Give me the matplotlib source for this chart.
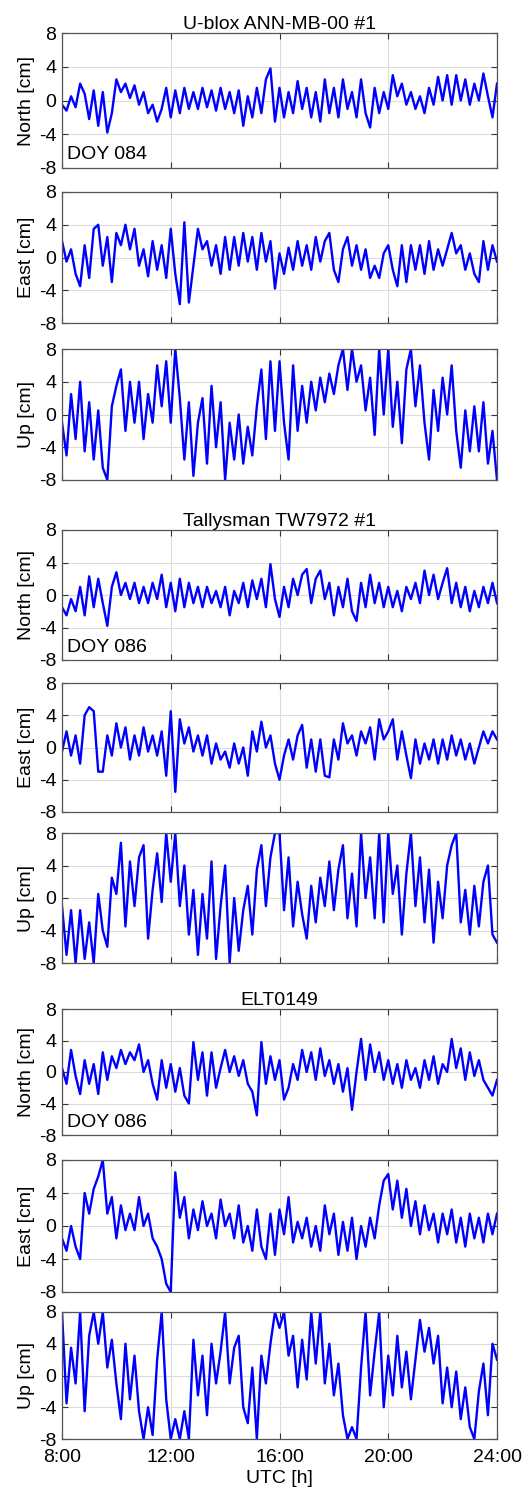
import numpy as np
import matplotlib
matplotlib.use("Agg")
import matplotlib.pyplot as plt

plt.rcParams['font.family'] = ['Liberation Sans', 'DejaVu Sans']
plt.rcParams['axes.unicode_minus'] = False

# time axis: 10-minute samples from 8:00 to 24:00 UTC (hours)
hours = np.arange(97) / 6.0 + 8.0

# U-blox ANN-MB-00 #1, DOY 084 (cm)
ublox_north = [
    -0.5, -1.2, 0.5, -0.8, 2.0, 0.8,
    -2.2, 1.2, -3.0, 1.0, -3.8, -1.5,
    2.5, 1.0, 2.0, 0.3, 1.8, -0.5,
    1.0, -1.5, -0.5, -2.5, -1.0, 1.5,
    -2.0, 1.2, -1.5, 1.5, -1.0, 1.0,
    -1.0, 1.5, -0.8, 1.2, -1.2, 1.5,
    -1.0, 1.0, -1.5, 1.2, -3.0, 0.5,
    -2.0, 1.5, -1.5, 2.5, 3.8, -2.5,
    1.5, -2.0, 1.0, -1.5, 2.3, -1.0,
    1.5, -2.0, 1.0, -2.5, 2.5, -1.5,
    1.5, -2.0, 2.5, -1.0, 1.0, -2.0,
    2.5, -1.5, -3.2, 1.5, -1.5, 1.0,
    -1.0, 3.0, 0.5, 2.0, -0.5, 1.0,
    -1.0, 0.5, -1.5, 1.5, -0.5, 2.8,
    0.0, 3.0, -0.5, 3.0, 0.0, 2.5,
    -0.5, 2.0, 0.0, 3.2, 0.5, -2.0,
    2.0]
ublox_east = [
    2.0, -0.5, 1.0, -2.0, -3.5, 1.5,
    -2.5, 3.5, 4.0, -1.0, 2.5, -3.0,
    3.0, 1.5, 4.0, 1.0, 3.5, -1.0,
    1.0, -2.3, 2.0, -1.5, 1.5, -2.5,
    3.5, -2.0, -5.7, 4.3, -5.5, -1.0,
    3.5, 1.0, 2.0, -1.0, 1.5, -2.0,
    2.5, -1.5, 2.5, -1.0, 3.0, -0.5,
    2.5, -1.5, 3.0, -0.5, 2.0, -3.8,
    0.5, -2.0, 1.2, -1.5, 2.0, -1.0,
    1.5, -1.5, 2.5, -0.5, 2.0, 3.0,
    -1.5, -3.0, 1.0, 2.5, -1.0, 1.5,
    -1.5, 1.0, -2.5, -1.0, -2.5, 0.5,
    1.5, -1.5, -3.5, 1.5, -3.0, 1.5,
    -1.5, 1.5, -2.0, 2.0, -1.5, 1.0,
    -1.0, 1.0, 3.0, 0.5, 1.5, -1.5,
    0.5, -2.0, -3.0, 2.0, -1.5, 1.5,
    -0.5]
ublox_up = [
    -1.0, -5.0, 2.5, -3.0, 4.0, -4.5,
    1.5, -5.5, 0.5, -6.5, -8.0, 1.0,
    3.5, 5.5, -2.0, 4.0, -1.0, 4.0,
    -3.0, 2.5, -1.0, 6.0, 1.0, 6.5,
    -1.0, 8.0, 2.0, -5.5, 1.5, -7.5,
    -1.0, 2.0, -6.0, 3.5, -4.0, 1.5,
    -8.0, -1.0, -5.5, 0.0, -6.0, -1.5,
    -5.0, 1.0, 5.5, -3.0, 6.5, -2.0,
    6.5, -1.0, -5.5, 6.0, -2.0, 3.5,
    -1.0, 4.0, 0.5, 4.5, 1.5, 5.0,
    2.5, 6.0, 8.0, 3.0, 8.0, 4.0,
    6.0, 0.5, 4.5, -2.5, 8.0, 0.0,
    8.0, -1.5, 4.0, -3.5, 5.5, 8.0,
    1.0, 6.0, -1.0, -5.5, 3.0, -2.0,
    4.5, 0.0, 6.0, -2.0, -6.5, 0.5,
    -4.5, 1.0, -4.5, 1.5, -6.0, -2.0,
    -8.0]

# Tallysman TW7972 #1, DOY 086 (cm)
tally_north = [
    -1.5, -2.5, -0.5, -2.0, 1.0, -2.5,
    2.3, -1.5, 2.0, -1.0, -3.8, 1.0,
    2.8, 0.0, 1.5, -0.5, 1.5, -1.0,
    1.0, -1.0, 1.5, -0.5, 2.5, -1.5,
    1.5, -2.0, 2.0, -1.5, 1.5, -1.0,
    1.0, -1.5, 1.0, -1.0, 0.5, -1.5,
    1.0, -2.5, 0.5, -1.0, 1.5, -1.5,
    1.8, -0.5, 2.0, -1.5, 3.8, -0.5,
    -2.7, 1.0, -1.5, 2.0, 0.0, 2.5,
    3.2, -1.0, 2.0, 3.0, -0.5, 1.5,
    -2.5, 1.0, -1.5, 2.0, -2.0, -3.2,
    1.5, -1.5, 2.5, -1.0, 1.5, -1.5,
    1.0, -1.5, 0.5, -2.0, 1.0, -0.5,
    1.5, -1.0, 3.0, 0.0, 2.5, -0.5,
    1.5, 3.3, -1.0, 1.5, -1.5, 1.0,
    -2.0, 0.5, -1.5, 1.0, -1.0, 1.5,
    -1.0]
tally_east = [
    -0.5, 2.0, -1.0, 1.5, -2.0, 4.0,
    5.0, 4.5, -3.0, -3.0, 1.5, -1.0,
    3.0, 0.0, 2.5, -1.5, 1.5, -1.0,
    2.5, -0.5, 1.5, -1.0, 2.0, -3.5,
    4.5, -5.5, 3.5, 0.5, 2.5, -0.5,
    1.5, -1.0, 1.5, -2.0, 0.5, -1.5,
    -0.5, -2.5, 0.5, -2.0, 0.0, -3.5,
    2.0, -0.5, 3.2, 0.0, 1.5, -2.0,
    -4.0, -1.0, 1.0, -1.5, 1.5, 2.8,
    -2.5, 1.0, -3.0, 1.0, -3.5, -3.7,
    1.0, -1.5, 3.0, 0.5, 1.5, -1.0,
    2.0, 0.5, 2.5, -1.5, 3.5, 1.0,
    2.0, 3.5, -1.5, 2.0, -1.0, -3.8,
    1.0, -2.0, 0.5, -1.5, 1.0, -2.0,
    1.0, -1.5, 1.5, -1.0, 1.0, -1.5,
    0.5, -2.0, 0.0, 2.0, 0.5, 2.0,
    1.0]
tally_up = [
    -1.0, -7.0, -1.5, -8.0, -1.5, -7.5,
    -3.0, -8.0, 0.5, -4.0, -6.0, 2.5,
    0.5, 6.8, -3.5, 4.5, -1.0, 5.0,
    6.5, -5.0, 1.0, 5.5, -0.5, 8.0,
    2.0, 8.0, -1.0, 4.0, -4.5, 1.0,
    -7.0, 0.5, -5.0, 4.5, -7.5, -1.0,
    4.0, -8.0, 0.0, -6.5, -1.5, 1.5,
    -4.5, 3.5, 6.5, -1.0, 5.0, 8.0,
    8.0, -1.5, 5.0, -3.5, 2.0, -2.0,
    -5.0, 1.5, -3.0, 2.5, -1.0, 4.5,
    -1.5, 3.5, 6.5, -2.5, 3.0, -3.5,
    8.0, 0.0, 5.0, -2.5, 8.0, -3.0,
    8.0, 0.5, 4.0, -4.5, 3.0, 8.0,
    -1.0, 5.0, -3.0, 3.5, -5.5, 2.0,
    -2.5, 4.0, 6.5, 8.0, -3.0, 1.0,
    -4.5, 1.5, -3.5, 2.0, 4.0, -4.5,
    -5.5]

# ELT0149, DOY 086 (cm)
elt_north = [
    0.5, -1.5, 2.8, -0.5, -2.8, 1.5,
    -1.5, 1.0, -2.8, 2.5, -1.0, 2.0,
    0.5, 2.8, 1.0, 2.5, 1.5, 3.5,
    0.0, 1.5, -1.5, -3.5, 1.5, -2.0,
    1.0, -2.5, 0.5, -3.0, -4.0, 3.8,
    -1.0, 2.5, -3.0, 2.5, -2.0, 0.5,
    2.8, 0.0, 2.0, -0.5, 1.5, -1.5,
    -2.5, -5.5, 3.8, -1.5, 2.0, -1.0,
    1.5, -3.5, -2.0, 1.0, -1.0, 2.8,
    0.0, 2.5, -1.0, 3.0, -0.5, 1.5,
    -1.5, 1.0, -2.5, 0.5, -4.8, 0.0,
    4.2, -1.0, 3.5, 0.0, 2.5, -1.0,
    1.5, -1.5, 1.0, -2.0, 1.5, -1.0,
    0.5, -2.0, 1.5, -1.0, 2.0, -1.5,
    1.0, 0.0, 4.2, 0.5, 3.0, -1.0,
    2.5, -0.5, 1.5, -1.0, -2.0, -3.0,
    -1.0]
elt_east = [
    -1.5, -3.0, 0.0, -2.5, -4.0, 4.0,
    1.5, 4.5, 6.0, 8.0, 1.5, 3.5,
    -1.5, 2.5, -0.5, 1.5, -0.5, 3.5,
    0.0, 1.5, -1.5, -2.5, -4.0, -7.0,
    -8.0, 6.5, 1.0, 3.5, -1.5, 2.0,
    -0.5, 3.0, 0.0, 1.5, -1.5, 3.2,
    0.0, 1.5, -1.5, 2.5, -2.0, 0.0,
    -3.0, 2.0, -2.5, -4.0, 1.5, -3.5,
    2.0, -1.0, 3.5, -2.0, 0.5, -1.5,
    1.0, -2.5, 0.0, -3.0, 2.5, -1.0,
    1.5, -3.5, 0.5, -3.0, 1.0, -4.0,
    0.0, -2.5, 1.0, -1.5, 2.5, 5.5,
    6.3, 2.0, 5.5, 1.0, 4.5, 0.0,
    3.0, -1.0, 2.5, -0.5, 1.5, -2.0,
    1.5, -1.0, 2.0, -2.0, 1.0, -2.5,
    1.5, -1.5, 1.0, -2.0, 1.5, -1.0,
    1.5]
elt_up = [
    8.0, -3.5, 3.5, -1.0, 8.0, -4.5,
    5.0, 8.0, 4.0, 8.0, 1.0, 4.5,
    -1.0, -5.5, 4.0, -3.0, 2.5, -4.5,
    -8.0, -4.0, -7.5, 2.0, 8.0, -3.0,
    -8.0, -5.5, -8.0, -4.5, -8.0, 4.5,
    -2.5, 2.5, -5.0, 4.0, -1.0, 3.0,
    8.0, -1.0, 3.5, 5.0, -4.0, -6.0,
    1.0, -8.0, 2.5, -1.0, 4.0, 8.0,
    6.0, 8.0, 2.5, 5.0, -1.5, 4.5,
    -0.5, 8.0, 1.5, 8.0, -1.0, 4.0,
    -2.5, 1.5, -5.0, -8.0, -6.5, -8.0,
    1.0, 8.0, -2.5, 3.0, 8.0, -4.0,
    2.5, -2.5, 5.0, -1.5, 3.0, -3.0,
    2.0, 7.0, 3.0, 6.0, 1.5, 5.0,
    -3.5, 1.0, -4.0, 0.5, -5.5, -1.5,
    -6.5, -8.0, -2.0, 1.5, -5.0, 4.0,
    2.0]

titles = ['U-blox ANN-MB-00 #1', 'Tallysman TW7972 #1', 'ELT0149']
doys = ['DOY 084', 'DOY 086', 'DOY 086']
components = ['North [cm]', 'East [cm]', 'Up [cm]']
series = [ublox_north, ublox_east, ublox_up,
          tally_north, tally_east, tally_up,
          elt_north, elt_east, elt_up]
xticks = [8, 12, 16, 20, 24]
xticklabels = ['8:00', '12:00', '16:00', '20:00', '24:00']
yticks = [-8, -4, 0, 4, 8]

W, H = 531, 1494
fig = plt.figure(figsize=(W / 100, H / 100), dpi=100)

# axes top/bottom in pixels (from top of image)
panel_px = [(33, 168), (192, 323), (349, 480),
            (530, 660), (683, 812), (833, 963),
            (1009, 1135), (1160, 1292), (1312, 1439)]
left_px, right_px = 62, 497
fs = 14

for i, (top, bot) in enumerate(panel_px):
    ax = fig.add_axes([left_px / W, 1 - bot / H, (right_px - left_px) / W, (bot - top) / H])
    ax.plot(hours, series[i], color='#0000ff', lw=1.7)
    ax.set_xlim(8, 24)
    ax.set_ylim(-8, 8)
    ax.set_xticks(xticks)
    ax.set_yticks(yticks)
    ax.grid(True, color='#dcdcdc', lw=0.8)
    ax.set_axisbelow(True)
    ax.tick_params(direction='in', top=True, right=True, length=4,
                   labelsize=fs, color='#333333', pad=4)
    ax.tick_params(axis='x', pad=7)
    for s in ax.spines.values():
        s.set_color('#555555')
        s.set_linewidth(0.9)
    ax.set_ylabel(components[i % 3], fontsize=fs, labelpad=3)
    if i == 8:
        ax.set_xticklabels(xticklabels)
        ax.set_xlabel('UTC [h]', fontsize=fs, labelpad=3)
    else:
        ax.set_xticklabels([])
    if i % 3 == 0:
        ax.set_title(titles[i // 3], fontsize=fs, pad=3)
        ax.text(8.2, -6.45, doys[i // 3], fontsize=fs, va='center', ha='left')

fig.savefig('out.png', dpi=100)
